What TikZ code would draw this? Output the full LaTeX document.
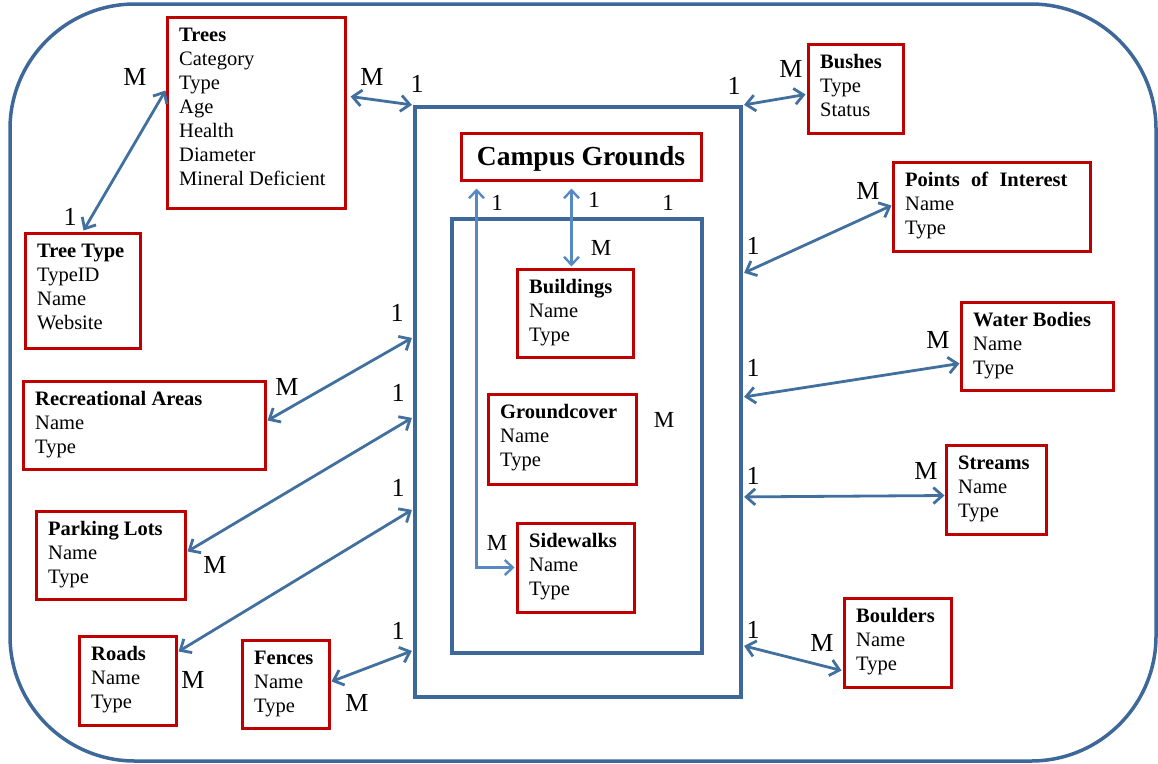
\documentclass[tikz,border=0pt]{standalone}
\usepackage{fontspec}
\setmainfont{Liberation Serif}
\usetikzlibrary{arrows.meta,calc,fit,shadows}

\definecolor{frameblue}{HTML}{3D6899}
\definecolor{linkblue}{HTML}{41709F}
\definecolor{innerblue}{HTML}{5688C4}
\definecolor{boxred}{HTML}{C00000}

\tikzset{
  ent/.style={draw=boxred, line width=3pt, fill=white, inner sep=0pt,
    drop shadow={shadow xshift=2pt, shadow yshift=-2pt, opacity=0.22, fill=black!60}},
  enttext/.style={anchor=north west, inner sep=0pt, align=left,
    font=\fontsize{20.5}{24}\selectfont},
  campusframe/.style={draw=frameblue, line width=4.2pt, inner sep=0pt, fill=white,
    drop shadow={shadow xshift=2pt, shadow yshift=-2pt, opacity=0.2, fill=black!60}},
  relarrow/.style={draw=linkblue, line width=2.8pt,
    {Straight Barb[length=9pt,width=16pt]}-{Straight Barb[length=9pt,width=16pt]}},
  relinner/.style={draw=innerblue, line width=2.4pt,
    {Straight Barb[length=8pt,width=15pt]}-{Straight Barb[length=8pt,width=15pt]}},
  cardlabel/.style={inner sep=0pt, font=\fontsize{26}{26}\selectfont},
  cardinner/.style={inner sep=0pt, font=\fontsize{23}{23}\selectfont},
}

% entity box: name, x1, y1, x2, y2, lines of text
\newcommand\entity[6]{%
  \node[ent, fit={(#2,#3)(#4,#5)}] (#1) {};
  \node[enttext] (#1-text) at ($(#1.north west)+(13.5,8.7)$) {\strut#6};
}

\begin{document}
\begin{tikzpicture}[x=1pt, y=-1pt]
\useasboundingbox (0,0) rectangle (1158,763);

% outer boundary
\draw[draw=frameblue, line width=3.5pt, rounded corners=125pt] (10,4) rectangle (1156,761);

% campus frames
\node[campusframe, fit={(415,107)(741,697)}] (frame) {};
\node[campusframe, fit={(452,219)(702,653)}] (inner) {};

% central entity
\node[ent, minimum width=240pt, minimum height=47pt, text height=18pt, text depth=0pt,
  font=\fontsize{27.5}{30}\selectfont\bfseries] (cg) at (581,156.5) {Campus Grounds};

% surrounding entities
\entity{trees}{167}{17}{345}{208}{\textbf{Trees}\\Category\\Type\\Age\\Health\\Diameter\\Mineral Deficient}
\entity{treetype}{25}{233}{140}{348}{\textbf{Tree Type}\\TypeID\\Name\\Website}
\entity{bushes}{808}{44}{903}{133}{\textbf{Bushes}\\Type\\Status}
\entity{poi}{893}{162}{1090}{251}{\textbf{Points\hspace{0.55em}of\hspace{0.55em}Interest}\\Name\\Type}
\entity{water}{961}{302}{1113}{390}{\textbf{Water Bodies}\\Name\\Type}
\entity{streams}{946}{445}{1046}{534}{\textbf{Streams}\\Name\\Type}
\entity{boulders}{844}{598}{951}{687}{\textbf{Boulders}\\Name\\Type}
\entity{rec}{23}{381}{265}{469}{\textbf{Recreational Areas}\\Name\\Type}
\entity{parking}{36}{511}{185}{599}{\textbf{Parking Lots}\\Name\\Type}
\entity{roads}{79}{636}{176}{725}{\textbf{Roads}\\Name\\Type}
\entity{fences}{242}{640}{329}{728}{\textbf{Fences}\\Name\\Type}

% entities inside the campus
\entity{bld}{517}{269}{633}{357}{\textbf{Buildings}\\Name\\Type}
\entity{gc}{488}{394}{636}{484}{\textbf{Groundcover}\\Name\\Type}
\entity{sw}{517}{523}{634}{612}{\textbf{Sidewalks}\\Name\\Type}

% relationships
\draw[relarrow] ($(trees.north west)+(0,75)$) -- ($(treetype.north west)+(60,-1)$);
\draw[relarrow] ($(trees.north east)+(4,81)$) -- ($(frame.north west)+(-1,0)$);
\draw[relarrow] ($(frame.north east)+(1,0)$) -- ($(bushes.north west)+(-1,52)$);
\draw[relarrow] ($(frame.north east)+(1,168)$) -- ($(poi.north west)+(0,45)$);
\draw[relarrow] ($(frame.north east)+(1,292)$) -- ($(water.north west)+(0,63)$);
\draw[relarrow] ($(frame.north east)+(1,392)$) -- ($(streams.north west)+(0,52)$);
\draw[relarrow] ($(frame.north east)+(1,541)$) -- ($(boulders.north west)+(-1,74)$);
\draw[relarrow] ($(rec.north east)+(1,41)$) -- ($(frame.north west)+(-1,233)$);
\draw[relarrow] ($(parking.north east)+(1,42)$) -- ($(frame.north west)+(-1,313)$);
\draw[relarrow] ($(roads.north east)+(1,17)$) -- ($(frame.north west)+(-1,405)$);
\draw[relarrow] ($(fences.north east)+(1,43)$) -- ($(frame.north west)+(-1,546)$);

\draw[relinner] ($(cg.south west)+(112,7)$) -- ($(bld.north west)+(56,-1)$);
\draw[relinner] ($(cg.south west)+(17,7)$) |- ($(sw.west)+(-1,0)$);

% cardinalities
\node[cardlabel] (c1) at (135,77) {M};
\node[cardlabel] (c2) at (70,217) {1};
\node[cardlabel] (c3) at (372,77) {M};
\node[cardlabel] (c4) at (417,84) {1};
\node[cardlabel] (c5) at (734,86) {1};
\node[cardlabel] (c6) at (791,69) {M};
\node[cardlabel] (c7) at (868,191) {M};
\node[cardlabel] (c8) at (753,246) {1};
\node[cardlabel] (c9) at (938,340) {M};
\node[cardlabel] (c10) at (753,368) {1};
\node[cardlabel] (c11) at (926,471) {M};
\node[cardlabel] (c12) at (753,476) {1};
\node[cardlabel] (c13) at (822,643) {M};
\node[cardlabel] (c14) at (753,630) {1};
\node[cardlabel] (c15) at (287,387) {M};
\node[cardlabel] (c16) at (397,313) {1};
\node[cardlabel] (c17) at (398,393) {1};
\node[cardlabel] (c18) at (215,565) {M};
\node[cardlabel] (c19) at (398,488) {1};
\node[cardlabel] (c20) at (193,680) {M};
\node[cardlabel] (c21) at (398,631) {1};
\node[cardlabel] (c22) at (357,703) {M};

\node[cardinner] (d1) at (497,203) {1};
\node[cardinner] (d2) at (594,200) {1};
\node[cardinner] (d3) at (668,203) {1};
\node[cardinner] (d4) at (601,248) {M};
\node[cardinner] (d5) at (664,420) {M};
\node[cardinner] (d6) at (497,543) {M};
\end{tikzpicture}
\end{document}
